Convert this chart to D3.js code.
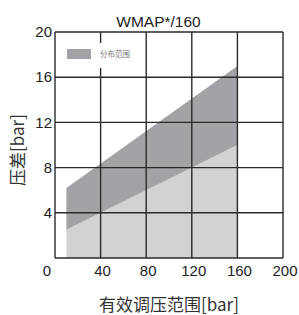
<!DOCTYPE html>
<html>
<head>
<meta charset="utf-8">
<script src="https://cdn.jsdelivr.net/npm/d3@7"></script>
<style>
  body { margin: 0; background: #fff; }
  text { font-family: "Liberation Sans", Arial, sans-serif; }
  .cjk { font-family: "Noto Sans CJK SC", "Liberation Sans", sans-serif; }
</style>
</head>
<body>
<svg id="chart" width="299" height="315"></svg>
<script>
// data
var xTicks = [0, 40, 80, 120, 160, 200];
var yTicks = [4, 8, 12, 16, 20];
var rangeX = [10, 160];       // 有效调压范围
var lowerDp = [2.5, 10];      // 下边界
var upperDp = [6.2, 17];      // 上边界

var margin = { top: 32, left: 55, width: 228, height: 226 };

var svg = d3.select("#chart");

var x = d3.scaleLinear().domain([0, 200]).range([margin.left, margin.left + margin.width]);
var y = d3.scaleLinear().domain([0, 20]).range([margin.top + margin.height, margin.top]);

var pts = rangeX.map(function (v, i) {
    return { x: v, lo: lowerDp[i], hi: upperDp[i] };
});

// light area (0 -> lower)
svg.append("path")
    .datum(pts)
    .attr("fill", "#d1d2d4")
    .attr("d", d3.area()
        .x(function (d) { return x(d.x); })
        .y0(y(0))
        .y1(function (d) { return y(d.lo); }));

// dark area (lower -> upper)
svg.append("path")
    .datum(pts)
    .attr("fill", "#a2a3a7")
    .attr("d", d3.area()
        .x(function (d) { return x(d.x); })
        .y0(function (d) { return y(d.lo); })
        .y1(function (d) { return y(d.hi); }));

// grid
var grid = svg.append("g").attr("stroke", "#2a2a2a").attr("stroke-width", 1.4);
xTicks.forEach(function (t) {
    grid.append("line")
        .attr("x1", x(t)).attr("x2", x(t))
        .attr("y1", y(0)).attr("y2", y(20));
});
[0].concat(yTicks).forEach(function (t) {
    grid.append("line")
        .attr("x1", x(0)).attr("x2", x(200))
        .attr("y1", y(t)).attr("y2", y(t));
});

// legend (white box over grid)
svg.append("rect")
    .attr("x", x(0) + 3).attr("y", y(20) + 11)
    .attr("width", 82).attr("height", 25)
    .attr("fill", "#fff");
svg.append("rect")
    .attr("x", 67).attr("y", 49)
    .attr("width", 24).attr("height", 10)
    .attr("fill", "#a2a3a7");
svg.append("text")
    .attr("class", "cjk")
    .attr("x", 100).attr("y", 57)
    .attr("font-size", 7.5)
    .attr("fill", "#777")
    .text("分布范围");

// tick labels
svg.append("g").selectAll("text")
    .data(xTicks)
    .enter()
    .append("text")
    .attr("x", function (d) { return x(d) + (d === 0 ? -8 : 2); })
    .attr("y", 275.5)
    .attr("text-anchor", "middle")
    .attr("font-size", 15)
    .attr("fill", "#222")
    .text(function (d) { return d; });

svg.append("g").selectAll("text")
    .data(yTicks)
    .enter()
    .append("text")
    .attr("x", 52)
    .attr("y", function (d) { return y(d); })
    .attr("dy", "0.35em")
    .attr("text-anchor", "end")
    .attr("font-size", 15)
    .attr("fill", "#222")
    .text(function (d) { return d; });

// title
svg.append("text")
    .attr("x", 158.5).attr("y", 26.5)
    .attr("text-anchor", "middle")
    .attr("font-size", 15.5)
    .attr("fill", "#222")
    .text("WMAP*/160");

// axis titles
svg.append("text")
    .attr("class", "cjk")
    .attr("x", 169).attr("y", 311)
    .attr("text-anchor", "middle")
    .attr("font-size", 17)
    .attr("fill", "#333")
    .text("有效调压范围[bar]");

svg.append("text")
    .attr("class", "cjk")
    .attr("transform", "translate(24,150) rotate(-90)")
    .attr("text-anchor", "middle")
    .attr("font-size", 17)
    .attr("fill", "#333")
    .text("压差[bar]");
</script>
</body>
</html>
